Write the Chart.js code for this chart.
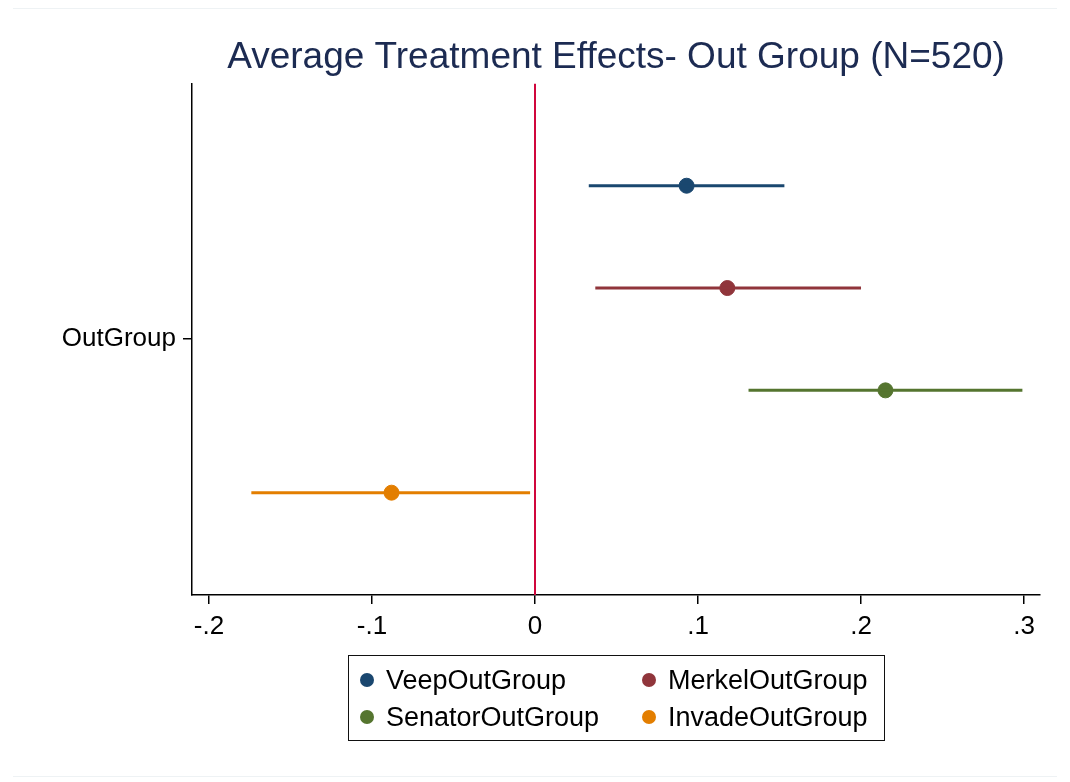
<!DOCTYPE html>
<html>
<head>
<meta charset="utf-8">
<script src="https://cdn.jsdelivr.net/npm/chart.js@4.4.1/dist/chart.umd.min.js"></script>
<style>
  html, body { margin: 0; padding: 0; background: #fff; }
  .wrap { position: relative; width: 1070px; height: 782px; font-family: "Liberation Sans", Arial, sans-serif; }
  .rule { position: absolute; left: 13px; width: 1044px; height: 0; border-top: 1px solid #eef2f4; }
  .legend { position: absolute; left: 348px; top: 655px; width: 535px; height: 84px; border: 1px solid #111; }
  .legend .item { position: absolute; display: flex; align-items: center; height: 30px; font-size: 27px; color: #000; white-space: nowrap; }
  .legend .dot { width: 14px; height: 14px; border-radius: 50%; margin-right: 12px; }
</style>
</head>
<body>
<div class="wrap">
  <div class="rule" style="top:8px"></div>
  <div class="rule" style="top:776px"></div>
  <canvas id="effects" width="1070" height="782"></canvas>
  <div class="legend" id="legend"></div>
</div>
<script>
const categories = ['OutGroup'];
const series = ['VeepOutGroup', 'MerkelOutGroup', 'SenatorOutGroup', 'InvadeOutGroup'];
const estimates = [0.093, 0.118, 0.215, -0.088];
const ciLow = [0.033, 0.037, 0.131, -0.174];
const ciHigh = [0.153, 0.200, 0.299, -0.003];
const xTicks = [-0.2, -0.1, 0, 0.1, 0.2, 0.3];

const palette = ['#1a476f', '#90353b', '#55752f', '#e37e00'];
const font = '"Liberation Sans", Arial, sans-serif';
const yMax = series.length + 1;

// one row per series, category label sits in the middle
const datasets = [];
series.forEach((name, i) => {
  datasets.push({
    label: name + ' CI',
    data: [{ x: ciLow[i], y: i + 1 }, { x: ciHigh[i], y: i + 1 }],
    showLine: true,
    borderColor: palette[i],
    borderWidth: 3,
    pointRadius: 0,
  });
  datasets.push({
    label: name,
    data: [{ x: estimates[i], y: i + 1 }],
    backgroundColor: palette[i],
    borderColor: palette[i],
    pointRadius: 7.5,
    pointHoverRadius: 7.5,
  });
});
datasets.push({
  label: 'zero',
  data: [{ x: 0, y: 0 }, { x: 0, y: yMax }],
  showLine: true,
  borderColor: '#d0063c',
  borderWidth: 2,
  pointRadius: 0,
});

function fmt(v) {
  const r = Math.round(v * 10) / 10;
  if (r === 0) return '0';
  return (r < 0 ? '-' : '') + String(Math.abs(r)).replace(/^0/, '');
}

new Chart(document.getElementById('effects'), {
  type: 'scatter',
  data: { datasets },
  options: {
    responsive: false,
    animation: false,
    layout: { padding: { left: 0, right: 30, top: 0, bottom: 0 } },
    plugins: {
      legend: { display: false },
      tooltip: { enabled: false },
      title: {
        display: true,
        fullSize: false,
        text: 'Average Treatment Effects- Out Group (N=520)',
        color: '#1c2b52',
        font: { family: font, size: 37, weight: 'normal' },
        padding: { top: 36, bottom: 3 },
      },
    },
    scales: {
      x: {
        type: 'linear',
        min: -0.2104,
        max: 0.3098,
        afterBuildTicks: (scale) => { scale.ticks = xTicks.map(v => ({ value: v })); },
        afterFit: (scale) => { scale.height = 187; },
        grid: { drawOnChartArea: false, color: '#000', lineWidth: 1.5, tickLength: 9 },
        border: { display: true, color: '#000', width: 1.5 },
        ticks: {
          color: '#000',
          padding: 7,
          maxRotation: 0,
          font: { family: font, size: 26 },
          callback: (v) => fmt(v),
        },
      },
      y: {
        type: 'linear',
        min: 0,
        max: yMax,
        reverse: true,
        afterBuildTicks: (scale) => { scale.ticks = [{ value: yMax / 2 }]; },
        afterFit: (scale) => { scale.width = 192; },
        grid: { drawOnChartArea: false, color: '#000', lineWidth: 1.5, tickLength: 9 },
        border: { display: true, color: '#000', width: 1.5 },
        ticks: {
          color: '#000',
          padding: 7,
          font: { family: font, size: 26 },
          callback: () => categories[0],
        },
      },
    },
  },
});

// legend box, two columns
const legend = document.getElementById('legend');
series.forEach((name, i) => {
  const col = i % 2, row = Math.floor(i / 2);
  const item = document.createElement('div');
  item.className = 'item';
  item.style.left = (col === 0 ? 11 : 293) + 'px';
  item.style.top = (row === 0 ? 9 : 46) + 'px';
  item.innerHTML = '<span class="dot" style="background:' + palette[i] + '"></span><span>' + name + '</span>';
  legend.appendChild(item);
});
</script>
</body>
</html>
